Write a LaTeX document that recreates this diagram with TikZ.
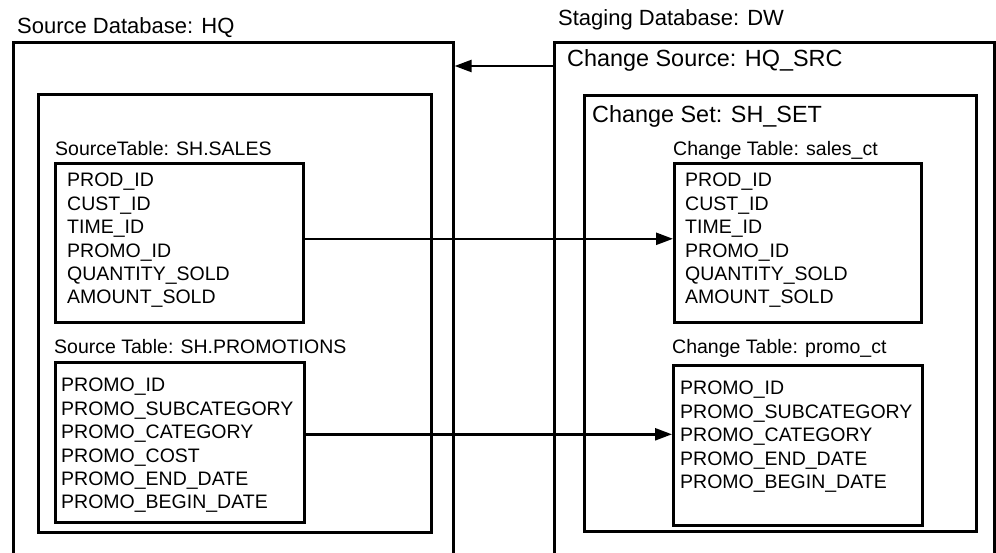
\documentclass[tikz,border=0pt]{standalone}
\usepackage{fontspec}
\setmainfont{Liberation Sans}
\usetikzlibrary{positioning,arrows.meta}
\begin{document}
\begin{tikzpicture}[x=1pt, y=-1pt, >={Triangle[length=17pt,width=12pt]},
    every node/.style = {inner sep=0pt},
    title/.style = {anchor=base west, font=\fontsize{22}{26}\selectfont},
    head/.style = {anchor=base west, font=\fontsize{23.4}{28}\selectfont},
    tablabel/.style = {anchor=base west, font=\fontsize{19.5}{23.4}\selectfont},
    box/.style = {draw, line width=2.6pt, anchor=north west, rectangle},
    fields/.style = {anchor=north west, align=left, font=\fontsize{19.5}{23.4}\selectfont},
    flow/.style = {->, line width=2.4pt}
    ]
    \clip (0,0) rectangle (996,552);
    \node[title] (hqtitle) at (17,33) {Source Database: HQ};
    \node[title] (dwtitle) at (558,25) {Staging Database: DW};
    \node[box, minimum width=440pt, minimum height=530pt] (hq) at (12,41) {};
    \node[box, minimum width=440pt, minimum height=530pt] (dw) at (553,41) {};
    \node[box, minimum width=393pt, minimum height=438pt] (hqset) at (37,93) {};
    \node[box, minimum width=392pt, minimum height=436pt] (shset) at (583,94) {};
    \node[head] (srclabel) at (567,66) {Change Source: HQ\_SRC};
    \node[head] (setlabel) at (592,122) {Change Set: SH\_SET};

    \node[tablabel] (ssaleslabel) at (55,155) {SourceTable: SH.SALES};
    \node[box, minimum width=248pt, minimum height=159pt] (ssales) at (54,162) {};
    \node[fields] (ssalesfields) at (67,173) {PROD\_ID\\CUST\_ID\\TIME\_ID\\PROMO\_ID\\QUANTITY\_SOLD\\AMOUNT\_SOLD};

    \node[tablabel] (csaleslabel) at (673,155) {Change Table: sales\_ct};
    \node[box, minimum width=247pt, minimum height=159pt] (csales) at (673,162) {};
    \node[fields] (csalesfields) at (685,173) {PROD\_ID\\CUST\_ID\\TIME\_ID\\PROMO\_ID\\QUANTITY\_SOLD\\AMOUNT\_SOLD};

    \node[tablabel] (spromolabel) at (54,353) {Source Table: SH.PROMOTIONS};
    \node[box, minimum width=249pt, minimum height=160pt] (spromo) at (54,361) {};
    \node[fields] (spromofields) at (61,378) {PROMO\_ID\\PROMO\_SUBCATEGORY\\PROMO\_CATEGORY\\PROMO\_COST\\PROMO\_END\_DATE\\PROMO\_BEGIN\_DATE};

    \node[tablabel] (cpromolabel) at (672,353) {Change Table: promo\_ct};
    \node[box, minimum width=249pt, minimum height=160pt] (cpromo) at (672,364) {};
    \node[fields] (cpromofields) at (680,381) {PROMO\_ID\\PROMO\_SUBCATEGORY\\PROMO\_CATEGORY\\PROMO\_END\_DATE\\PROMO\_BEGIN\_DATE};

    \draw[flow] ([yshift=-25pt]dw.north west) -- ([yshift=-25pt]dw.north west -| hq.east);
    \draw[flow] ([yshift=4pt]ssales.east) -- ([yshift=4pt]ssales.east -| csales.west);
    \draw[flow] ([yshift=8pt]spromo.east) -- ([yshift=8pt]spromo.east -| cpromo.west);
\end{tikzpicture}
\end{document}
